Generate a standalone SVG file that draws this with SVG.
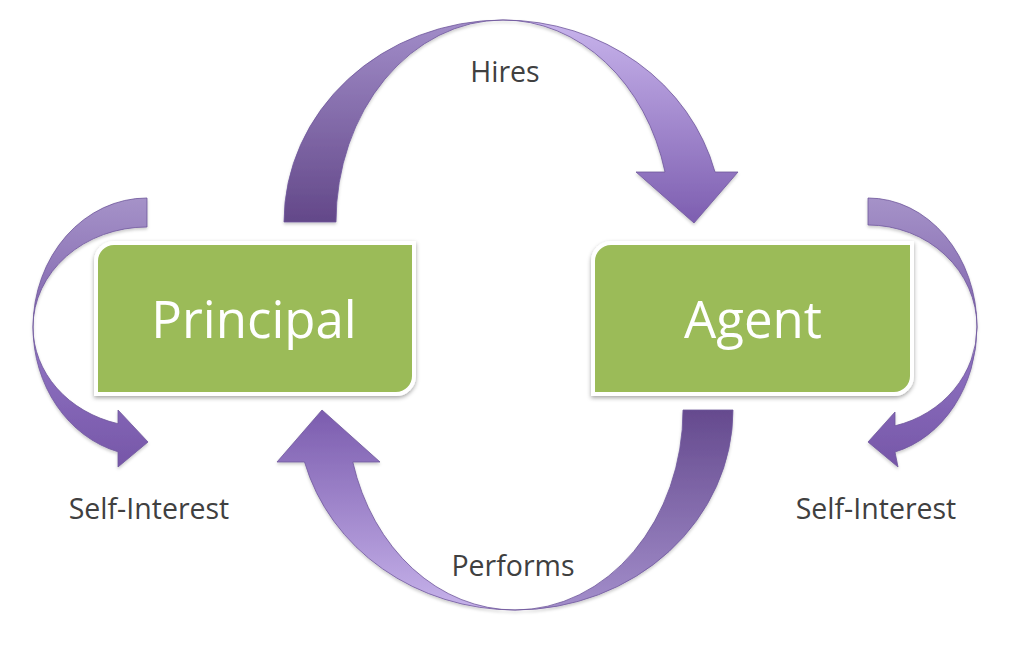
<svg xmlns="http://www.w3.org/2000/svg" width="1016" height="654" viewBox="0 0 1016 654">
<defs>
<style>
.box{fill:#9bbb59;stroke:#ffffff;stroke-width:4;filter:url(#sh)}
.arw{stroke:#6f589c;stroke-width:1;stroke-opacity:0.8;filter:url(#sh2)}
.big{font-family:"Open Sans","Noto Sans",sans-serif;font-size:51px;fill:#ffffff;text-anchor:middle}
.lbl{font-family:"Open Sans","Noto Sans",sans-serif;font-size:28.5px;fill:#404040;text-anchor:middle}
</style>
<filter id="sh" x="-10%" y="-10%" width="120%" height="130%">
<feDropShadow dx="0" dy="2" stdDeviation="2" flood-color="#000" flood-opacity="0.35"/>
</filter>
<filter id="sh2" x="-10%" y="-10%" width="120%" height="130%">
<feDropShadow dx="0" dy="2" stdDeviation="1.5" flood-color="#000" flood-opacity="0.2"/>
</filter>
<linearGradient id="gBackUp" x1="0" y1="1" x2="0" y2="0">
<stop offset="0" stop-color="#634889"/>
<stop offset="1" stop-color="#a28dc9"/>
</linearGradient>
<linearGradient id="gFrontDown" x1="0" y1="0" x2="0" y2="1">
<stop offset="0" stop-color="#c8b4ec"/>
<stop offset="1" stop-color="#7d5eb0"/>
</linearGradient>
<linearGradient id="gBackDown" x1="0" y1="0" x2="0" y2="1">
<stop offset="0" stop-color="#654a8e"/>
<stop offset="1" stop-color="#a38ecb"/>
</linearGradient>
<linearGradient id="gFrontUp" x1="0" y1="1" x2="0" y2="0">
<stop offset="0" stop-color="#c6b2ea"/>
<stop offset="1" stop-color="#7b5cae"/>
</linearGradient>
<linearGradient id="gSelfTop" x1="0" y1="0" x2="0" y2="1">
<stop offset="0" stop-color="#a592c8"/>
<stop offset="1" stop-color="#7f63ad"/>
</linearGradient>
<linearGradient id="gSelfBot" x1="0" y1="0" x2="0" y2="1">
<stop offset="0" stop-color="#9378c6"/>
<stop offset="1" stop-color="#7656a8"/>
</linearGradient>
</defs>
<rect width="1016" height="654" fill="#ffffff"/>

<g id="connectors">
  <g id="hires-arrow">
    <path class="arw" fill="url(#gBackUp)" d="M 284,222 A 219,202 0 0 1 503,20 A 167,202 0 0 0 336,222 Z"/>
    <path class="arw" fill="url(#gFrontDown)" d="M 503,20 A 219,202 0 0 1 715,172 L 738,172 L 694,223 L 636,172 L 665,172 A 167,202 0 0 0 503,20 Z"/>
  </g>
  <g id="performs-arrow">
    <path class="arw" fill="url(#gBackDown)" d="M 733,410 A 218,200 0 0 1 515,610 A 168,200 0 0 0 683,410 Z"/>
    <path class="arw" fill="url(#gFrontUp)" d="M 515,610 A 218,200 0 0 1 304.5,462 L 277,462 L 322,410 L 380,462 L 352.8,462 A 168,200 0 0 0 515,610 Z"/>
  </g>
  <g id="self-left-arrow">
    <path class="arw" fill="url(#gSelfTop)" d="M 147,198 A 114,129 0 0 0 33,327 A 114,100 0 0 1 147,227 Z"/>
    <path class="arw" fill="url(#gSelfBot)" d="M 33,327 A 114,129 0 0 0 118,451.8 L 118,467 L 148,442 L 118,410 L 118,423.7 A 114,100 0 0 1 33,327 Z"/>
  </g>
  <g id="self-right-arrow">
    <path class="arw" fill="url(#gSelfTop)" d="M 868,198 A 109,129 0 0 1 977,327 A 109,102 0 0 0 868,225 Z"/>
    <path class="arw" fill="url(#gSelfBot)" d="M 977,327 A 109,129 0 0 1 895,452 L 898,467 L 868,442 L 895,412 L 895,425.8 A 109,102 0 0 0 977,327 Z"/>
  </g>
</g>

<g id="principal">
  <path class="box" d="M 114,243 H 414 V 376 A 18,18 0 0 1 396,394 H 96 V 261 A 18,18 0 0 1 114,243 Z"/>
  <text class="big" x="254" y="338">Principal</text>
</g>
<g id="agent">
  <path class="box" d="M 611,243 H 912 V 376 A 18,18 0 0 1 894,394 H 593 V 261 A 18,18 0 0 1 611,243 Z"/>
  <text class="big" x="753" y="338">Agent</text>
</g>

<g id="labels">
  <text class="lbl" x="505" y="82">Hires</text>
  <text class="lbl" x="513" y="576">Performs</text>
  <text class="lbl" x="149" y="519">Self-Interest</text>
  <text class="lbl" x="876" y="519">Self-Interest</text>
</g>
</svg>
